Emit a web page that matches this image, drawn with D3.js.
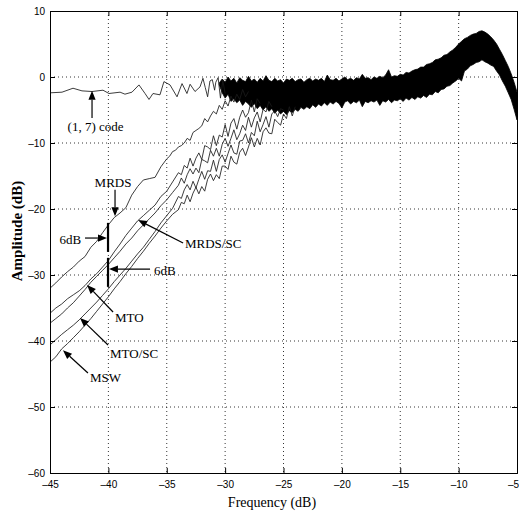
<!DOCTYPE html>
<html><head><meta charset="utf-8">
<script src="https://cdn.jsdelivr.net/npm/d3@7"></script>
<style>body{margin:0;background:#fff}svg{display:block}</style>
</head><body>
<script>
const xTicks=[-45,-40,-35,-30,-25,-20,-15,-10,-5];
const yTicks=[10,0,-10,-20,-30,-40,-50,-60];
const xLabel="Frequency (dB)", yLabel="Amplitude (dB)";
const code17=[[-45,-2.4],[-43.97,-2.3],[-43.03,-1.7],[-42.26,-2.1],[-41.4,-2.2],[-40.46,-2.0],[-39.95,-2.5],[-39.0,-2.3],[-38.58,-2.6],[-37.98,-2.3],[-37.38,-1.2],[-36.86,-2.5],[-36.52,-3.4],[-36.18,-2.5],[-35.58,-2.7],[-35.24,-0.7],[-34.72,-1.2],[-34.12,-3.0],[-33.69,-1.0],[-33.27,-2.5],[-33.0,-1.1],[-32.58,-2.2],[-32.15,-1.5],[-31.9,-0.2],[-31.7,-1.6],[-31.5,-3.0],[-31.3,-0.6],[-31.1,-0.4],[-30.9,-2.0],[-30.8,-0.8],[-30.6,-0.1],[-30.4,-3.2],[-30.2,-0.5],[-30.0,-2.5]];
const mrds=[[-45,-32.0],[-44.5,-31.2],[-44,-30.3],[-43.5,-29.5],[-43,-28.8],[-42.5,-27.9],[-42,-27.2],[-41.5,-25.8],[-41,-24.9],[-40.5,-23.6],[-40,-22.4],[-39.5,-21.3],[-39,-20.6],[-38.5,-19.8],[-38,-17.9],[-37.5,-16.6],[-37,-15.6],[-36.5,-15.4],[-36,-15.2],[-35.5,-13.6],[-35,-12.4],[-34.75,-12.0],[-34.5,-11.3],[-34.25,-11.1],[-34,-10.6],[-33.75,-10.4],[-33.5,-10.0],[-33.25,-9.3],[-33,-9.6],[-32.75,-8.4],[-32.5,-8.1],[-32.25,-7.8],[-32,-7.4],[-31.75,-6.3],[-31.5,-6.8],[-31.25,-5.9],[-31,-5.2],[-30.75,-5.6],[-30.5,-4.3],[-30.25,-4.9],[-30,-3.6],[-29.75,-4.4],[-29.5,-2.9],[-29.25,-3.8],[-29,-2.6],[-28.75,-3.4],[-28.5,-1.9],[-28.25,-3.0],[-28,-2.2]];
const mrdsSC=[[-45,-35.8],[-44.5,-35.0],[-44,-34.4],[-43.5,-33.6],[-43,-33.0],[-42.5,-32.4],[-42,-31.6],[-41.5,-30.6],[-41,-29.8],[-40.5,-28.8],[-40,-27.8],[-39.5,-26.5],[-39,-25.3],[-38.5,-24.0],[-38,-22.9],[-37.5,-21.8],[-37,-21.0],[-36.5,-20.2],[-36,-19.4],[-35.5,-18.1],[-35,-17.3],[-34.5,-15.9],[-34,-14.5],[-33.75,-14.8],[-33.5,-13.4],[-33.25,-13.8],[-33,-12.3],[-32.75,-13.5],[-32.5,-12.3],[-32.25,-11.5],[-32,-12.5],[-31.75,-10.4],[-31.5,-10.6],[-31.25,-11.0],[-31,-8.9],[-30.75,-10.4],[-30.5,-8.8],[-30.25,-9.1],[-30,-7.2],[-29.75,-9.0],[-29.5,-7.0],[-29.25,-6.3],[-29,-7.9],[-28.75,-6.1],[-28.5,-5.0],[-28.25,-6.1],[-28,-5.4],[-27.75,-3.5],[-27.5,-5.3],[-27.25,-3.3],[-27,-4.0]];
const mto=[[-45,-37.3],[-44.5,-36.6],[-44,-35.9],[-43.5,-35.0],[-43,-34.2],[-42.5,-33.2],[-42,-32.2],[-41.5,-31.1],[-41,-30.2],[-40.5,-29.3],[-40,-28.4],[-39.5,-27.4],[-39,-26.4],[-38.5,-25.3],[-38,-24.4],[-37.5,-23.3],[-37,-22.4],[-36.5,-21.5],[-36,-20.6],[-35.5,-19.5],[-35,-18.6],[-34.5,-17.5],[-34,-16.4],[-33.75,-15.3],[-33.5,-16.1],[-33.25,-14.8],[-33,-13.9],[-32.75,-14.7],[-32.5,-13.8],[-32.25,-14.5],[-32,-12.5],[-31.75,-12.7],[-31.5,-13.0],[-31.25,-11.1],[-31,-12.0],[-30.75,-10.8],[-30.5,-12.0],[-30.25,-10.2],[-30,-9.3],[-29.75,-10.5],[-29.5,-9.3],[-29.25,-8.0],[-29,-9.5],[-28.75,-8.6],[-28.5,-7.3],[-28.25,-8.1],[-28,-6.1],[-27.75,-7.6],[-27.5,-6.2],[-27.25,-5.3],[-27,-6.8],[-26.75,-4.9],[-26.5,-5.3],[-26.25,-3.7],[-26,-4.5]];
const mtoSC=[[-45,-40.6],[-44.5,-39.8],[-44,-39.0],[-43.5,-38.3],[-43,-37.6],[-42.5,-36.8],[-42,-35.9],[-41.5,-35.0],[-41,-34.1],[-40.5,-33.1],[-40,-32.1],[-39.5,-31.0],[-39,-30.0],[-38.5,-29.0],[-38,-27.9],[-37.5,-26.8],[-37,-25.8],[-36.5,-24.6],[-36,-23.4],[-35.5,-22.1],[-35,-21.0],[-34.5,-19.9],[-34,-18.1],[-33.75,-18.4],[-33.5,-17.1],[-33.25,-16.3],[-33,-17.1],[-32.75,-15.8],[-32.5,-16.8],[-32.25,-15.5],[-32,-14.3],[-31.75,-15.5],[-31.5,-14.2],[-31.25,-14.3],[-31,-12.6],[-30.75,-14.3],[-30.5,-12.5],[-30.25,-11.8],[-30,-12.9],[-29.75,-11.6],[-29.5,-10.3],[-29.25,-11.5],[-29,-11.7],[-28.75,-9.7],[-28.5,-9.6],[-28.25,-8.6],[-28,-10.0],[-27.75,-8.4],[-27.5,-8.9],[-27.25,-6.7],[-27,-8.3],[-26.75,-7.2],[-26.5,-6.0],[-26.25,-7.6],[-26,-5.6],[-25.75,-5.1],[-25.5,-6.0],[-25.25,-4.8],[-25,-5.0]];
const msw=[[-45,-43.2],[-44.5,-42.4],[-44,-41.2],[-43.5,-40.4],[-43,-39.5],[-42.5,-38.6],[-42,-37.6],[-41.5,-36.6],[-41,-35.5],[-40.5,-34.4],[-40,-33.3],[-39.5,-32.1],[-39,-31.0],[-38.5,-29.8],[-38,-28.7],[-37.5,-27.5],[-37,-26.4],[-36.5,-25.2],[-36,-24.1],[-35.5,-22.9],[-35,-21.8],[-34.5,-20.8],[-34,-20.1],[-33.75,-19.0],[-33.5,-19.2],[-33.25,-17.9],[-33,-18.9],[-32.75,-17.6],[-32.5,-16.7],[-32.25,-17.7],[-32,-16.6],[-31.75,-17.3],[-31.5,-15.5],[-31.25,-14.7],[-31,-15.7],[-30.75,-14.8],[-30.5,-15.4],[-30.25,-13.5],[-30,-13.5],[-29.75,-14.0],[-29.5,-12.0],[-29.25,-12.9],[-29,-13.2],[-28.75,-11.4],[-28.5,-10.8],[-28.25,-11.9],[-28,-10.6],[-27.75,-9.2],[-27.5,-10.6],[-27.25,-9.3],[-27,-10.3],[-26.75,-8.3],[-26.5,-7.7],[-26.25,-8.5],[-26,-8.6],[-25.75,-6.4],[-25.5,-6.9],[-25.25,-7.3],[-25,-5.6],[-24.75,-6.3],[-24.5,-4.5],[-24.25,-5.9],[-24,-4.5]];
// dense noise band: [frequency, upper envelope, lower envelope]
const band=[[-30.5,-0.9,-1.2],[-30.25,-0.3,-2.4],[-30,-0.8,-3.2],[-29.75,0.0,-2.6],[-29.5,-0.6,-3.7],[-29.25,-0.2,-3.3],[-29,-0.9,-3.9],[-28.75,-0.1,-3.5],[-28.5,-0.5,-4.3],[-28.25,-0.7,-3.7],[-28,0.1,-4.1],[-27.75,-0.6,-4.6],[-27.5,-0.3,-4.0],[-27.25,-0.8,-4.8],[-27,-0.2,-4.3],[-26.75,-0.6,-5.0],[-26.5,0.2,-4.5],[-26.25,-0.5,-5.2],[-26,-0.7,-4.8],[-25.75,-0.2,-5.5],[-25.5,-0.6,-5.0],[-25.25,-0.4,-5.6],[-25,-0.9,-5.2],[-24.75,-0.3,-5.7],[-24.5,-0.5,-5.1],[-24.25,-0.2,-5.4],[-24,-0.7,-4.9],[-23.75,-0.4,-5.2],[-23.5,-0.3,-4.6],[-23.25,-0.8,-4.9],[-23,-0.4,-4.5],[-22.75,-0.2,-4.8],[-22.5,-0.6,-4.2],[-22.25,-0.3,-4.6],[-22,-0.5,-4.1],[-21.75,-0.2,-4.4],[-21.5,-0.7,-3.9],[-21.25,0.3,-4.3],[-21,-0.4,-3.8],[-20.75,-0.5,-4.1],[-20.5,-0.2,-3.7],[-20.25,-0.6,-4.0],[-20,-0.3,-4.7],[-19.75,0.0,-3.8],[-19.5,-0.4,-3.6],[-19.25,-0.2,-4.1],[-19,-0.5,-3.7],[-18.75,-0.1,-3.9],[-18.5,-0.3,-3.5],[-18.25,0.4,-4.5],[-18,-0.2,-3.7],[-17.75,-0.1,-3.9],[-17.5,-0.4,-3.6],[-17.25,0.0,-3.8],[-17,-0.2,-3.5],[-16.75,0.1,-4.3],[-16.5,-0.1,-3.6],[-16.25,0.3,-3.8],[-16,1.1,-3.4],[-15.75,0.0,-3.9],[-15.5,0.2,-3.5],[-15.25,0.1,-3.6],[-15,0.4,-3.3],[-14.75,0.3,-3.7],[-14.5,0.7,-3.2],[-14.25,0.6,-3.5],[-14,0.9,-3.1],[-13.75,1.1,-3.4],[-13.5,1.2,-3.0],[-13.25,1.5,-3.2],[-13,1.5,-2.8],[-12.75,1.9,-3.1],[-12.5,2.0,-2.6],[-12.25,2.2,-2.7],[-12,2.6,-2.2],[-11.75,2.7,-2.4],[-11.5,2.9,-1.9],[-11.25,3.3,-1.8],[-11,3.4,-1.4],[-10.75,3.8,-1.3],[-10.5,4.1,-0.9],[-10.25,4.5,-0.6],[-10,5.0,-0.2],[-9.75,5.4,-0.6],[-9.5,5.8,0.9],[-9.25,6.0,1.2],[-9,6.3,1.7],[-8.75,6.5,1.9],[-8.5,6.6,2.2],[-8.25,6.9,2.3],[-8,7.0,2.6],[-7.75,6.8,2.3],[-7.5,6.5,2.1],[-7.25,6.1,1.8],[-7,5.6,1.6],[-6.75,5.0,0.9],[-6.5,4.2,0.3],[-6.25,3.4,-0.6],[-6,2.5,-1.4],[-5.75,1.6,-2.4],[-5.5,0.5,-3.4],[-5.25,-0.8,-4.9],[-5,-2.3,-6.5]];

const W=519,H=515,L=50,R=517,T=11,B=473;
const svg=d3.select("body").append("svg").attr("width",W).attr("height",H);
const x=d3.scaleLinear().domain([-45,-5]).range([L,R]);
const y=d3.scaleLinear().domain([-60,10]).range([B,T]);

// grid
const g=svg.append("g");
g.selectAll(".gx").data(xTicks.slice(1,-1)).join("line")
 .attr("x1",d=>x(d)).attr("x2",d=>x(d)).attr("y1",T).attr("y2",B)
 .attr("stroke","#000").attr("stroke-width",0.8).attr("stroke-dasharray","1,3");
g.selectAll(".gy").data(yTicks.slice(1,-1)).join("line")
 .attr("y1",d=>y(d)).attr("y2",d=>y(d)).attr("x1",L).attr("x2",R)
 .attr("stroke","#000").attr("stroke-width",0.8).attr("stroke-dasharray","1,3");

// band
svg.append("path").datum(band)
 .attr("d",d3.area().x(d=>x(d[0])).y0(d=>y(d[2])).y1(d=>y(d[1])))
 .attr("fill","#000").attr("stroke","#000").attr("stroke-width",0.8);

const line=d3.line().x(d=>x(d[0])).y(d=>y(d[1]));
[code17,mrds,mrdsSC,mto,mtoSC,msw].forEach(s=>{
 svg.append("path").datum(s).attr("d",line).attr("fill","none")
  .attr("stroke","#1a1a1a").attr("stroke-width",0.85);
});

// axes
const ax=svg.append("g").attr("font-family","Liberation Sans, Arial, sans-serif").attr("font-size",11);
const xb=d3.axisBottom(x).tickValues(xTicks).tickSize(-5).tickPadding(8).tickFormat(d=>String(d).replace("-","\u2013"));
const xg=ax.append("g").attr("transform",`translate(0,${B})`).call(xb);
xg.selectAll(".tick text").filter(d=>d===-5).attr("dx",-4);
ax.append("g").attr("transform",`translate(0,${T})`).call(d3.axisTop(x).tickValues(xTicks).tickSize(-5).tickFormat(""));
const yl=d3.axisLeft(y).tickValues(yTicks).tickSize(-5).tickPadding(5).tickFormat(d=>String(d).replace("-","\u2013"));
ax.append("g").attr("transform",`translate(${L},0)`).call(yl);
ax.append("g").attr("transform",`translate(${R},0)`).call(d3.axisRight(y).tickValues(yTicks).tickSize(-5).tickFormat(""));
ax.selectAll(".domain").attr("stroke","#000").attr("stroke-width",1);
ax.selectAll(".tick line").attr("stroke","#000");
ax.selectAll(".tick text").attr("fill","#000");

svg.append("text").attr("x",272).attr("y",507).attr("text-anchor","middle")
 .attr("font-family","Liberation Serif, Times New Roman, serif").attr("font-size",14).text(xLabel);
svg.append("text").attr("transform","translate(22,231) rotate(-90)").attr("text-anchor","middle")
 .attr("font-family","Liberation Serif, Times New Roman, serif").attr("font-size",15).attr("font-weight","bold").text(yLabel);

// annotations
const ann=svg.append("g").attr("font-family","Liberation Serif, Times New Roman, serif").attr("font-size",13).attr("fill","#000");
function arrow(f1,v1,f2,v2){
 const x1=x(f1),y1=y(v1),x2=x(f2),y2=y(v2);
 const a=Math.atan2(y2-y1,x2-x1),hl=9,hw=3.6;
 const bx=x2-hl*Math.cos(a),by=y2-hl*Math.sin(a);
 ann.append("line").attr("x1",x1).attr("y1",y1).attr("x2",bx).attr("y2",by).attr("stroke","#000").attr("stroke-width",1.2);
 ann.append("path").attr("d",`M${x2},${y2}L${bx+hw*Math.sin(a)},${by-hw*Math.cos(a)}L${bx-hw*Math.sin(a)},${by+hw*Math.cos(a)}Z`).attr("fill","#000");
}
function label(f,v,t,anchor){ann.append("text").attr("x",x(f)).attr("y",y(v)).attr("text-anchor",anchor||"start").text(t);}
arrow(-41.4,-6.2,-41.4,-2.1); label(-41.1,-8.2,"(1, 7) code","middle");
arrow(-39.43,-17.1,-39.43,-21.1); label(-39.6,-16.7,"MRDS","middle");
arrow(-42.0,-24.4,-40.12,-24.4); label(-42.34,-25.3,"6dB","end");
ann.append("line").attr("x1",x(-40.03)).attr("x2",x(-40.03)).attr("y1",y(-22.1)).attr("y2",y(-26.5)).attr("stroke","#000").attr("stroke-width",2.2);
ann.append("line").attr("x1",x(-40.03)).attr("x2",x(-40.03)).attr("y1",y(-27.4)).attr("y2",y(-31.8)).attr("stroke","#000").attr("stroke-width",2.2);
arrow(-36.43,-29.1,-39.95,-29.1); label(-36.09,-30.0,"6dB");
arrow(-33.6,-25.15,-37.46,-21.67); label(-33.44,-25.9,"MRDS/SC");
arrow(-39.6,-35.6,-41.83,-31.5); label(-39.43,-37.1,"MTO");
arrow(-40.03,-40.6,-42.43,-36.5); label(-39.86,-42.6,"MTO/SC");
arrow(-41.75,-44.85,-43.89,-41.4); label(-41.57,-46.2,"MSW");
</script>
</body></html>
